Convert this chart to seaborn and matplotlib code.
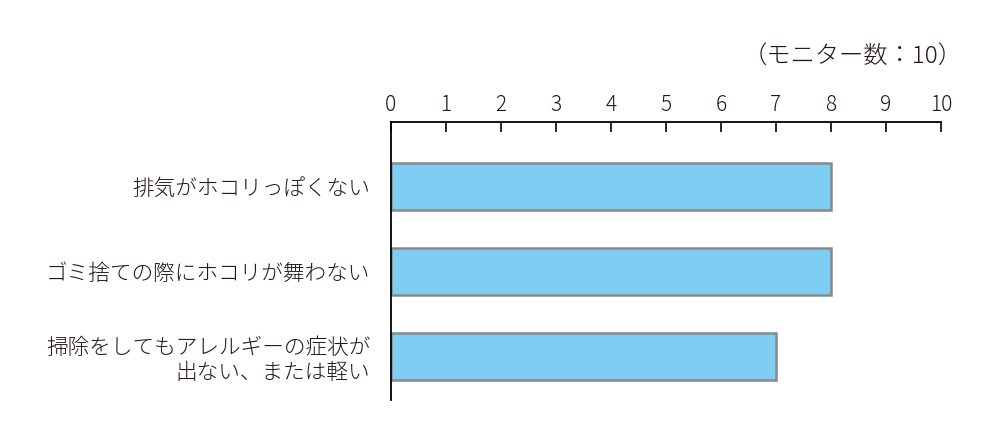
import matplotlib
matplotlib.use("Agg")
import matplotlib.pyplot as plt
import seaborn as sns
import pandas as pd

# データ
項目 = [
    "排気がホコリっぽくない",
    "ゴミ捨ての際にホコリが舞わない",
    "掃除をしてもアレルギーの症状が\n出ない、または軽い",
]
人数 = [8, 8, 7]
目盛り = list(range(0, 11))
注記 = "（モニター数：10）"

sns.set_theme(style="white")
plt.rcParams["font.family"] = ["Noto Sans CJK JP", "DejaVu Sans"]

df = pd.DataFrame({"項目": 項目, "人数": 人数})

文字色 = "#231815"
fig = plt.figure(figsize=(10, 4.47), dpi=100)
ax = fig.add_axes([0.391, 0.105, 0.55, 0.622])

sns.barplot(data=df, x="人数", y="項目", ax=ax, color="#7ECEF4",
            edgecolor="#898989", linewidth=1.8, width=0.55, saturation=1)

ax.set_xlim(0, 10)
ax.set_ylim(2.512, -0.759)
ax.set_xticks(目盛り)
ax.xaxis.tick_top()
ax.tick_params(axis="x", direction="in", length=7, width=1.2, color="black",
               labelsize=15, labelcolor=文字色, pad=4, top=True, bottom=False)
ax.tick_params(axis="y", length=0, labelsize=15.6, labelcolor=文字色, pad=15)
for lbl in ax.get_yticklabels():
    lbl.set_horizontalalignment("right")
    lbl.set_linespacing(1.2)
    lbl.set_fontweight("light")
for lbl in ax.get_xticklabels():
    lbl.set_fontweight("light")

for side in ["right", "bottom"]:
    ax.spines[side].set_visible(False)
for side in ["top", "left"]:
    ax.spines[side].set_color("black")
    ax.spines[side].set_linewidth(1.3)

ax.set_xlabel("")
ax.set_ylabel("")
ax.grid(False)

fig.text(0.963, 0.872, 注記, ha="right", va="center", fontsize=17.5,
         color=文字色, fontweight="light")

fig.savefig("out.png", dpi=100)
